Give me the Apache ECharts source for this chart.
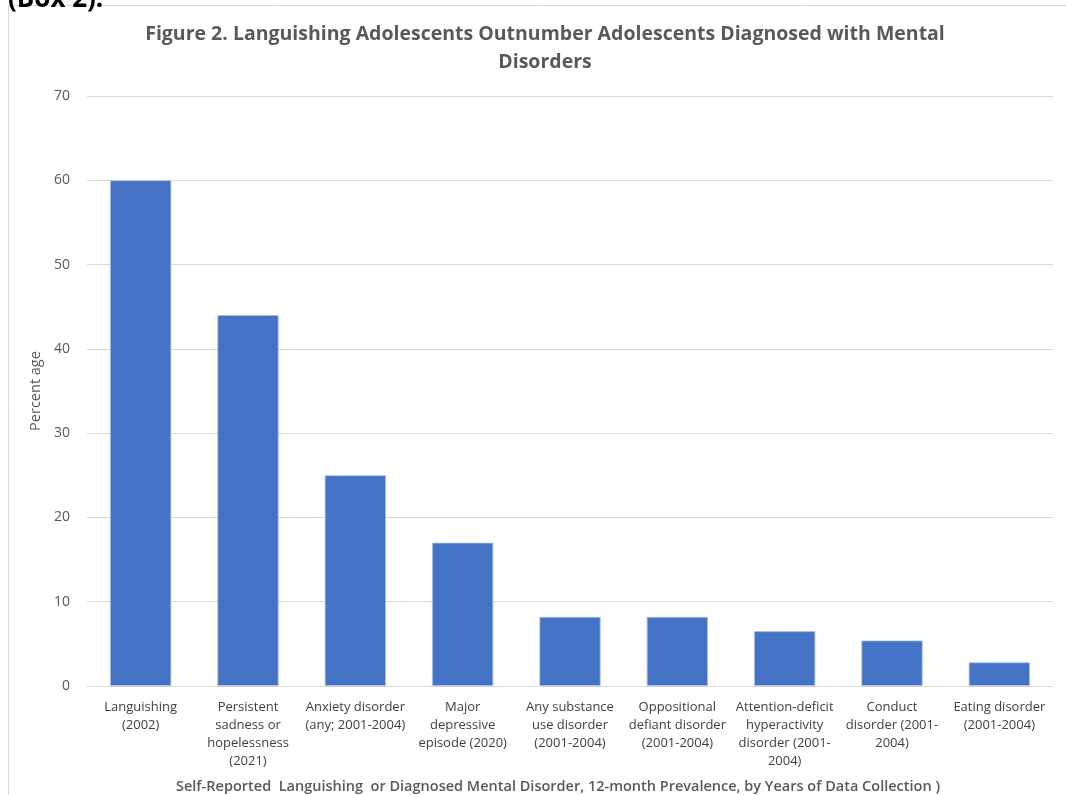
<!DOCTYPE html>
<html>
<head>
<meta charset="utf-8">
<script src="https://cdn.jsdelivr.net/npm/echarts@6/dist/echarts.min.js"></script>
<style>
  html, body { margin: 0; padding: 0; background: #fff; overflow: hidden; }
  #chart { width: 1066px; height: 795px; }
</style>
</head>
<body>
<div id="chart"></div>
<script>
// Categories (x-axis labels, line breaks as displayed)
const categories = [
  'Languishing\n(2002)',
  'Persistent\nsadness or\nhopelessness\n(2021)',
  'Anxiety disorder\n(any; 2001-2004)',
  'Major\ndepressive\nepisode (2020)',
  'Any substance\nuse disorder\n(2001-2004)',
  'Oppositional\ndefiant disorder\n(2001-2004)',
  'Attention-deficit\nhyperactivity\ndisorder (2001-\n2004)',
  'Conduct\ndisorder (2001-\n2004)',
  'Eating disorder\n(2001-2004)'
];

// Prevalence, percent
const percentages = [60, 44, 25, 17, 8.2, 8.2, 6.5, 5.4, 2.8];

const titleText = 'Figure 2. Languishing Adolescents Outnumber Adolescents Diagnosed with Mental\nDisorders';
const yAxisName = 'Percent age';
const xAxisName = 'Self-Reported  Languishing  or Diagnosed Mental Disorder, 12-month Prevalence, by Years of Data Collection )';

const FONT = '"Open Sans", "Liberation Sans", sans-serif';

const chart = echarts.init(document.getElementById('chart'), null, { renderer: 'canvas', width: 1066, height: 795 });

chart.setOption({
  backgroundColor: '#ffffff',
  animation: false,
  graphic: [
    {
      type: 'rect',
      shape: { x: 8.5, y: 5.5, width: 1100, height: 900 },
      style: { fill: 'none', stroke: '#d9d9d9', lineWidth: 1 },
      silent: true
    },
    {
      type: 'text',
      left: 8,
      top: -13,
      style: {
        text: '(Box 2).',
        font: 'bold 26px ' + FONT,
        fill: '#000000'
      }
    }
  ],
  title: {
    text: titleText,
    left: 540,
    top: 15,
    textAlign: 'center',
    textStyle: {
      fontFamily: FONT,
      fontWeight: 'bold',
      fontSize: 19.5,
      color: '#595959',
      lineHeight: 28
    }
  },
  grid: {
    left: 87,
    width: 966,
    top: 96,
    height: 590,
    containLabel: false,
    outerBoundsMode: 'none'
  },
  xAxis: {
    type: 'category',
    data: categories,
    name: xAxisName,
    nameLocation: 'middle',
    nameGap: 93,
    nameTextStyle: {
      fontFamily: FONT,
      fontSize: 14.5,
      fontWeight: 600,
      color: '#595959',
      padding: [0, 24, 0, 0]
    },
    axisLine: { show: true, lineStyle: { color: '#d9d9d9', width: 1 } },
    axisTick: { show: false },
    axisLabel: {
      interval: 0,
      margin: 12,
      fontFamily: FONT,
      fontSize: 13,
      color: '#404040',
      lineHeight: 18,
      align: 'center',
      verticalAlign: 'top'
    }
  },
  yAxis: {
    type: 'value',
    min: 0,
    max: 70,
    interval: 10,
    name: yAxisName,
    nameLocation: 'middle',
    nameGap: 36,
    nameRotate: 90,
    nameTextStyle: {
      fontFamily: FONT,
      fontSize: 14.5,
      color: '#595959'
    },
    axisLine: { show: false },
    axisTick: { show: false },
    splitLine: { show: true, lineStyle: { color: '#d9d9d9', width: 1 } },
    axisLabel: {
      margin: 17,
      fontFamily: FONT,
      fontSize: 14,
      color: '#595959'
    }
  },
  series: [
    {
      type: 'bar',
      data: percentages,
      barCategoryGap: '43%',
      itemStyle: {
        color: '#4472C4',
        borderColor: '#a9bfe6',
        borderWidth: 0.8
      },
      label: { show: false }
    }
  ]
});
</script>
</body>
</html>
